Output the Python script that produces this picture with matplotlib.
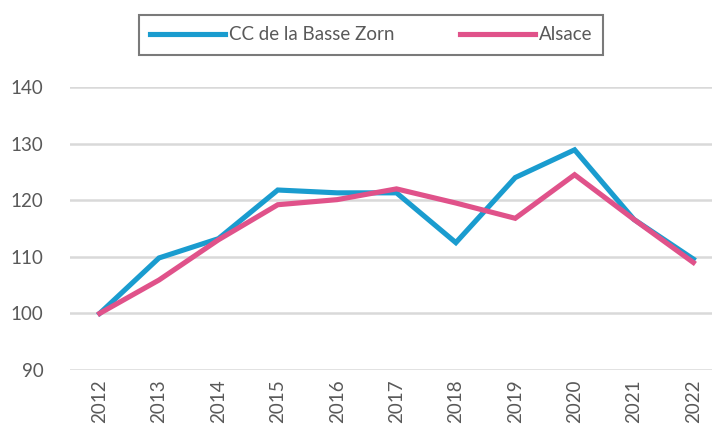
import numpy as np
import matplotlib
matplotlib.use('Agg')
import matplotlib.pyplot as plt

years = ['2012', '2013', '2014', '2015', '2016', '2017',
         '2018', '2019', '2020', '2021', '2022']
basse_zorn = [100, 109.8, 113.2, 121.8, 121.3, 121.3, 112.5, 124.0, 128.9, 116.6, 109.6]
alsace = [100, 105.9, 113.0, 119.2, 120.1, 122.0, 119.5, 116.8, 124.5, 116.6, 109.0]

plt.rcParams['font.family'] = ['Lato', 'DejaVu Sans']

fig = plt.figure(figsize=(7.12, 4.32), dpi=100)
ax = fig.add_axes([70 / 712, (432 - 370) / 432, (723 - 70) / 712, (370 - 87) / 432])

x = np.arange(len(years))
ax.plot(x, basse_zorn, color='#1a9ccf', lw=3.7, solid_joinstyle='miter',
        label='CC de la Basse Zorn')
ax.plot(x, alsace, color='#e0528a', lw=3.7, solid_joinstyle='miter',
        label='Alsace')

ax.set_xlim(-0.5, len(years) - 0.5)
ax.set_ylim(90, 140)
ax.set_yticks(range(90, 141, 10))
ax.set_xticks(x)
ax.set_xticklabels(years, rotation=90)
ax.grid(axis='y', color='#d9d9d9', lw=1.8)
ax.set_axisbelow(True)
for s in ax.spines.values():
    s.set_visible(False)
ax.tick_params(length=0, labelsize=13.5, colors='#595959')
ax.tick_params(axis='y', pad=19)
ax.tick_params(axis='x', pad=7)

leg = fig.legend(loc='center', bbox_to_anchor=(371 / 712, 1 - 35 / 432), ncol=2,
                 frameon=True, fancybox=False, fontsize=13.5, handlelength=4,
                 handletextpad=0.2, columnspacing=3.5, borderpad=0.6)
leg.get_frame().set_edgecolor('#595959')
leg.get_frame().set_linewidth(1.5)
for t in leg.get_texts():
    t.set_color('#595959')

fig.savefig('out.png', dpi=100)
